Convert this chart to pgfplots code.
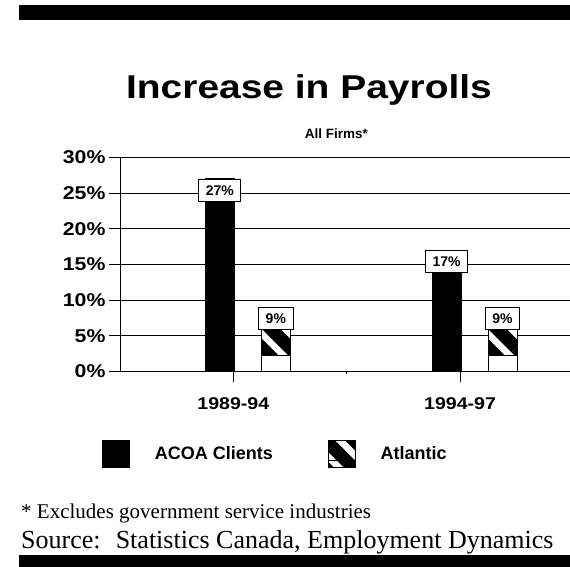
\documentclass[border=0pt]{standalone}
\usepackage{pgfplots}
\pgfplotsset{compat=1.18}
\usepackage{fontspec}
\setmainfont{Liberation Serif}
\newfontfamily\hb{Liberation Sans}
\newfontfamily\hbs{Liberation Sans}[FakeStretch=1.15]
\newfontfamily\hbT{Liberation Sans}[FakeStretch=1.18]
\usetikzlibrary{patterns.meta}
\pgfplotsset{
  lbl/.style={
    nodes near coords={\pgfmathprintnumber{\pgfplotspointmeta}\%},
    nodes near coords align={below},
    every node near coord/.append style={draw=black, fill=white, text=black,
      font=\hb\bfseries\fontsize{14}{14}\selectfont, inner xsep=7pt, inner ysep=0pt,
      minimum height=22pt, line width=0.8pt},
  },
  hatchlegend/.style={
    legend image code/.code={\draw[##1] (0pt,-13.5pt) rectangle (27pt,13.5pt);
      \draw[fill=white, line width=0.8pt] (0pt,-13.5pt) rectangle (27pt,-7pt);}
  },
}
\begin{document}
\begin{tikzpicture}
\useasboundingbox (0,0) rectangle (570pt,567pt);
\fill[black] (19pt,547pt) rectangle (570pt,562pt);
\fill[black] (19pt,0pt) rectangle (570pt,12pt);
\node[anchor=base,inner sep=0pt,font=\hbT\bfseries\fontsize{33}{34}\selectfont] at (309pt,468pt) {Increase in Payrolls};
\node[anchor=base,inner sep=0pt,font=\hb\bfseries\fontsize{13.5}{14}\selectfont] at (336.5pt,428.5pt) {All Firms*};
\node[anchor=base west,inner sep=0pt,font=\fontsize{21}{24}\selectfont] at (21pt,48pt) {* Excludes government service industries};
\node[anchor=base west,inner sep=0pt,font=\fontsize{26}{28}\selectfont] at (21pt,18pt) {Source:~ Statistics Canada, Employment Dynamics};
\begin{axis}[
  at={(120pt,195.5pt)}, anchor=south west,
  scale only axis, width=450pt, height=214pt,
  xmin=0.5, xmax=2.485, ymin=0, ymax=30,
  ybar, bar width=29pt,
  axis x line*=bottom, axis y line*=left,
  axis line style={black, line width=0.8pt},
  /pgf/number format/assume math mode=true,
  ytick={0,5,10,15,20,25,30},
  yticklabel={\pgfmathprintnumber{\tick}\%},
  yticklabel style={font=\hbs\bfseries\fontsize{18.5}{19}\selectfont},
  ymajorgrids, grid style={black, line width=0.8pt},
  xtick={1,2}, xticklabels={1989-94,1994-97},
  minor xtick={1.5},
  xticklabel style={font=\hbs\bfseries\fontsize{17}{18}\selectfont, yshift=-12pt},
  tick align=outside, major tick length=11pt, minor tick length=3pt,
  tick style={black, line width=0.8pt},
  legend image code/.code={\draw[#1] (0pt,-13.5pt) rectangle (27pt,13.5pt);},
  legend columns=2,
  legend style={at={(axis description cs:-0.04,-0.32)}, anchor=north west,
    draw=none, fill=none, inner sep=0pt, outer sep=0pt,
    font=\hb\bfseries\fontsize{18}{20}\selectfont,
    /tikz/every odd column/.append style={column sep=23pt},
    /tikz/every even column/.append style={column sep=53pt}},
]
\addplot[lbl, bar shift=-13.5pt, fill=black, draw=black, line width=0.8pt]
  coordinates {(1,27) (2,17)};
\addlegendentry{ACOA Clients}
\addplot[lbl, hatchlegend, bar shift=42.5pt, fill=white, draw=black, line width=0.8pt,
  postaction={pattern={Lines[angle=-45,distance=20pt,line width=13pt]}, pattern color=black}]
  coordinates {(1,9) (2,9)};
\addlegendentry{Atlantic}
\addplot[bar shift=42.5pt, fill=white, draw=black, line width=0.8pt, forget plot]
  coordinates {(1,2.3) (2,2.3)};
\end{axis}
\end{tikzpicture}
\end{document}
